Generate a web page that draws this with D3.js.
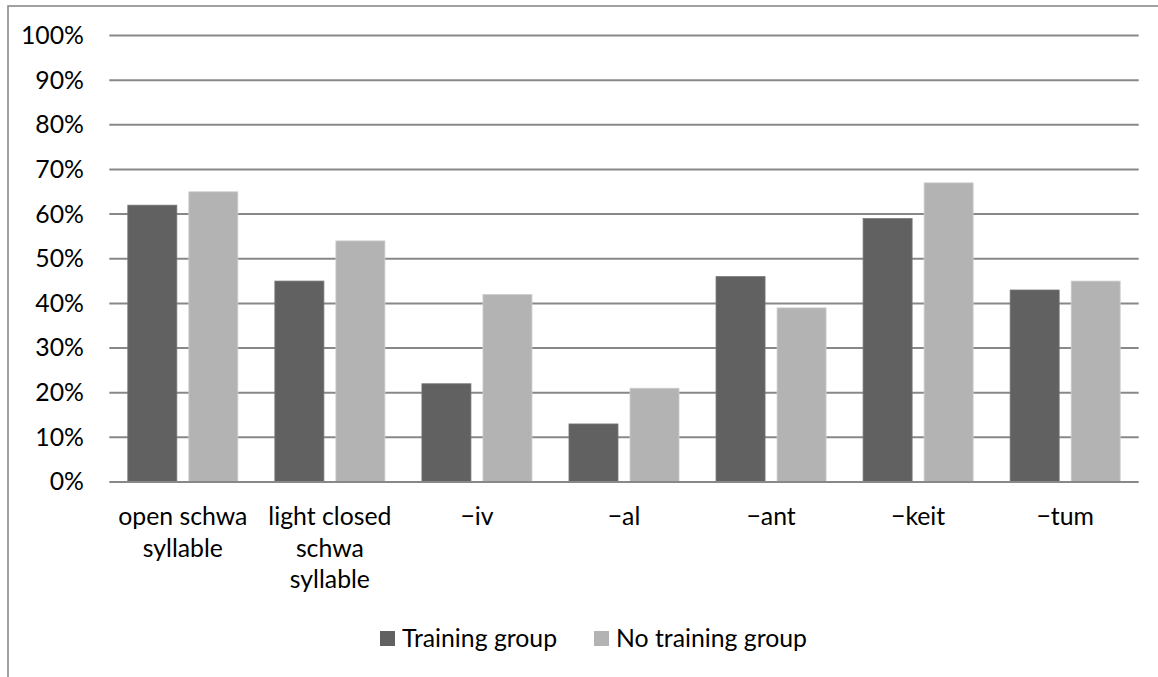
<!DOCTYPE html>
<html>
<head>
<meta charset="utf-8">
<script src="https://cdn.jsdelivr.net/npm/d3@7"></script>
<style>
  html, body { margin: 0; padding: 0; background: #fff; }
  svg { display: block; }
  text { font-family: Lato, "Open Sans", sans-serif; fill: #000; }
</style>
</head>
<body>
<svg id="chart" width="1158" height="677"></svg>
<script>
// Share of correct answers per word ending, by group
const categories = ["open schwa syllable", "light closed schwa syllable", "\u2212iv", "\u2212al", "\u2212ant", "\u2212keit", "\u2212tum"];
const seriesNames = ["Training group", "No training group"];
const trainingValues = [62, 45, 22, 13, 46, 59, 43];
const noTrainingValues = [65, 54, 42, 21, 39, 67, 45];
const yTicks = [0, 10, 20, 30, 40, 50, 60, 70, 80, 90, 100];

const colors = ["#616161", "#b3b3b3"];
const edge = ["#777777", "#cfcfcf"];
const fontSize = 24.8;

const svg = d3.select("#chart");
const plot = { left: 109.3, right: 1138.7, top: 35.5, bottom: 482 };

// outer frame of the chart area
svg.append("rect")
  .attr("x", 8).attr("y", 6)
  .attr("width", 1400).attr("height", 900)
  .attr("fill", "none").attr("stroke", "#8a8a8a").attr("stroke-width", 1.6);

const x0 = d3.scaleBand().domain(categories).range([plot.left, plot.right]).paddingInner(0).paddingOuter(0);
const groupPad = 18.5;
const x1 = d3.scaleBand().domain(seriesNames)
  .range([groupPad, x0.step() - groupPad]).paddingInner(12 / 61).paddingOuter(0);
const y = d3.scaleLinear().domain([0, 100]).range([plot.bottom, plot.top]);

// horizontal gridlines
svg.append("g").selectAll("line").data(yTicks.filter(d => d > 0)).join("line")
  .attr("x1", plot.left).attr("x2", plot.right)
  .attr("y1", d => y(d)).attr("y2", d => y(d))
  .attr("stroke", "#888888").attr("stroke-width", 2);

// y axis labels
const yAxis = d3.axisLeft(y).tickValues(yTicks).tickFormat(d => d + "%").tickSize(0).tickPadding(0);
const yg = svg.append("g").attr("transform", `translate(84,0)`).call(yAxis);
yg.select(".domain").remove();
yg.selectAll("text").attr("font-size", fontSize).attr("font-family", null).attr("fill", "#000");

// bars
const rows = categories.map((c, i) => ({ c, vals: [trainingValues[i], noTrainingValues[i]] }));
const groups = svg.append("g").selectAll("g").data(rows).join("g")
  .attr("transform", d => `translate(${x0(d.c)},0)`);
groups.selectAll("rect").data(d => d.vals.map((v, k) => ({ v, k }))).join("rect")
  .attr("x", d => x1(seriesNames[d.k]))
  .attr("width", x1.bandwidth())
  .attr("y", d => y(d.v))
  .attr("height", d => y(0) - y(d.v))
  .attr("fill", d => colors[d.k])
  .attr("stroke", d => edge[d.k]).attr("stroke-width", 0.8);

// baseline
svg.append("line")
  .attr("x1", plot.left).attr("x2", plot.right)
  .attr("y1", y(0)).attr("y2", y(0))
  .attr("stroke", "#888888").attr("stroke-width", 2.2);

// category labels, wrapped to the band width
const measure = svg.append("text").attr("font-size", fontSize).attr("visibility", "hidden");
function wrapWords(str, maxW) {
  const words = str.split(" ");
  const lines = [];
  let cur = "";
  words.forEach(w => {
    const test = cur ? cur + " " + w : w;
    measure.text(test);
    if (cur && measure.node().getComputedTextLength() > maxW) { lines.push(cur); cur = w; }
    else cur = test;
  });
  if (cur) lines.push(cur);
  return lines;
}
const lineH = 31.7;
const labels = svg.append("g").selectAll("text").data(categories).join("text")
  .attr("font-size", fontSize)
  .attr("text-anchor", "middle")
  .attr("transform", d => `translate(${x0(d) + x0.bandwidth() / 2},525)`);
labels.each(function(d) {
  const lines = wrapWords(d, x0.step() - 6);
  d3.select(this).selectAll("tspan").data(lines).join("tspan")
    .attr("x", 0).attr("y", (l, i) => i * lineH).text(l => l);
});
measure.remove();

// legend
const legendItems = [{ x: 380, name: seriesNames[0], k: 0 }, { x: 594, name: seriesNames[1], k: 1 }];
const lg = svg.append("g");
legendItems.forEach(it => {
  lg.append("rect").attr("x", it.x).attr("y", 631).attr("width", 15).attr("height", 15)
    .attr("fill", colors[it.k]);
  lg.append("text").attr("x", it.x + 22).attr("y", 646.5).attr("font-size", fontSize).text(it.name);
});
</script>
</body>
</html>
